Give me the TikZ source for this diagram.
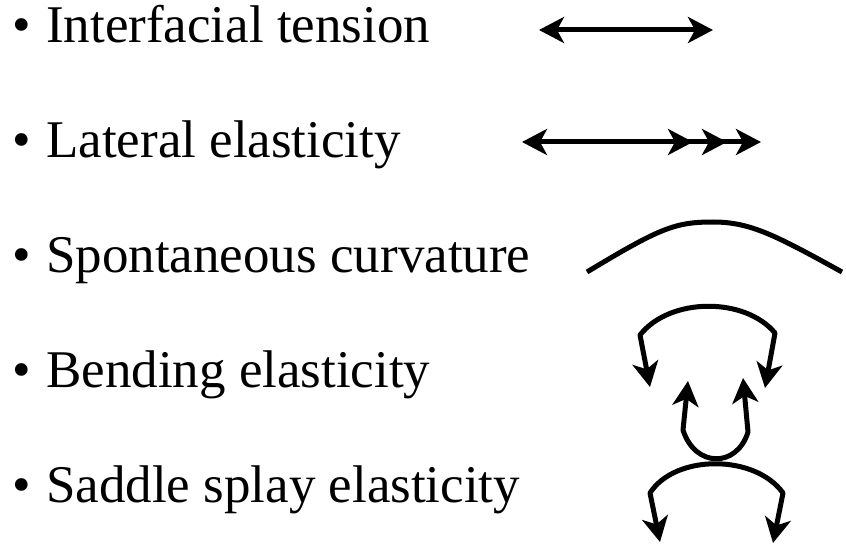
\documentclass[tikz,border=0pt]{standalone}
\usepackage{fontspec}
\setmainfont{Liberation Serif}
\usetikzlibrary{arrows.meta}
\tikzset{
  lbl/.style={anchor=base west, inner sep=0pt, font=\fontsize{53}{64}\selectfont},
  myhd/.tip={Stealth[length=25pt, width=26pt, inset=7pt]},
  myhds/.tip={Stealth[length=25pt, width=26pt, inset=7pt, sep=9pt]},
  stroke/.style={line width=5pt, line join=round},
}
\begin{document}
\begin{tikzpicture}[x=1pt,y=-1pt]
\useasboundingbox (0,0) rectangle (846,548);
% labels
\node[lbl] (b1) at (12,42.5) {•};
\node[lbl] (t1) at (46,42.5) {Interfacial tension};
\node[lbl] (b2) at (12,157.5) {•};
\node[lbl] (t2) at (46,157.5) {Lateral elasticity};
\node[lbl] (b3) at (12,272.5) {•};
\node[lbl] (t3) at (46,272.5) {Spontaneous curvature};
\node[lbl] (b4) at (12,387.5) {•};
\node[lbl] (t4) at (46,387.5) {Bending elasticity};
\node[lbl] (b5) at (12,502.5) {•};
\node[lbl] (t5) at (46,502.5) {Saddle splay elasticity};
% interfacial tension
\coordinate (a1l) at (539,30);
\coordinate (a1r) at (713,30);
\draw[stroke, myhd-myhd] (a1l) -- (a1r);
% lateral elasticity
\coordinate (a2l) at (522,142);
\coordinate (a2r) at (761,142);
\draw[stroke, {myhd[]}-{myhds[]myhds[]myhd[]}] (a2l) -- (a2r);
% spontaneous curvature
\coordinate (c1) at (587,272);
\coordinate (c2) at (842,272);
\draw[stroke] (c1) .. controls (660,228) and (675,222) .. (713,222) .. controls (750,222) and (775,235) .. (c2);
% bending elasticity
\coordinate (bt1) at (650,387);
\coordinate (bt2) at (765,388);
\draw[stroke, myhd-myhd] (bt1) -- (640,335) .. controls (670,297) and (745,297) .. (775,333) -- (bt2);
\coordinate (u1) at (688,381);
\coordinate (u2) at (743,378);
\draw[stroke, myhd-myhd] (u1) -- (683,430) .. controls (695,468) and (737,468) .. (748,432) -- (u2);
% saddle splay
\coordinate (s1) at (660,542);
\coordinate (s2) at (773,543);
\draw[stroke, myhd-myhd] (s1) -- (650,493) .. controls (675,454) and (755,454) .. (783,493) -- (s2);
\end{tikzpicture}
\end{document}
